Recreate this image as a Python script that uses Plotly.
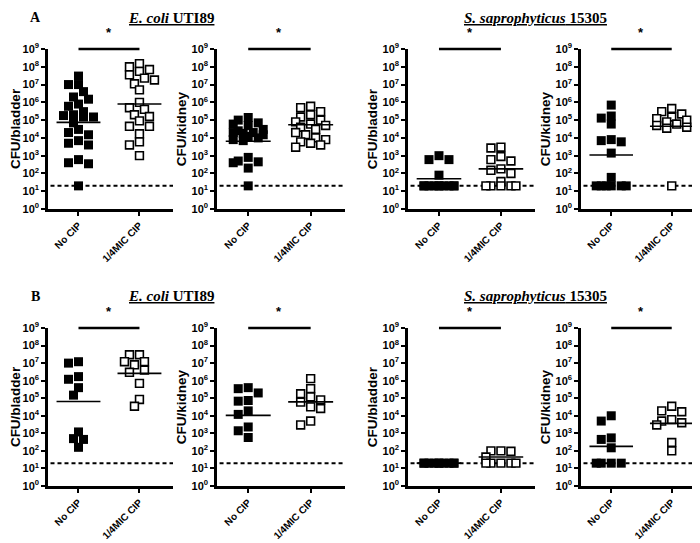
import numpy as np
import plotly.graph_objects as go

# ---------------- data ----------------
categories = ["No CIP", "1/4MIC CIP"]
tick_exponents = list(range(0, 10))
detection_limit = 20

# Row A (E. coli UTI89 / S. saprophyticus 15305)
a_ecoli_bladder_no = [3e7, 1e7, 1e7, 4e6, 2e6, 1.5e6, 8e5, 6e5, 3e5, 2e5, 1.8e5, 1.5e5,
                      1.5e5, 7e4, 3e4, 2e4, 1.5e4, 7e3, 5e3, 4e3, 6e2, 4e2, 3.5e2, 20]
a_ecoli_bladder_mic = [1.5e8, 1e8, 7e7, 5.5e7, 3.5e7, 2.3e7, 1.8e7, 1.1e7, 5e6, 1e6, 5e5,
                       4e5, 2e5, 1.6e5, 9e4, 4.5e4, 4.5e4, 1.7e4, 6e3, 4e3, 1e3]
a_ecoli_bladder_lines = [7.5e4, 8e5]

a_ecoli_kidney_no = [1.4e5, 1e5, 7e4, 6e4, 5e4, 3e4, 2.5e4, 2e4, 2e4, 1.8e4, 1.5e4, 1.2e4,
                     1e4, 8e3, 7e3, 8e2, 5e2, 4.5e2, 4e2, 2e2, 20]
a_ecoli_kidney_mic = [6e5, 5e5, 3e5, 2e5, 1.5e5, 1e5, 8e4, 6e4, 5e4, 4e4, 3e4, 2e4, 1.5e4,
                      1e4, 8e3, 6e3, 5e3, 4e3, 3e3]
a_ecoli_kidney_lines = [6.5e3, 5.5e4]

a_sapro_bladder_no = [1e3, 6e2, 6e2, 80, 20, 20, 20, 20, 20, 20, 20, 20, 20, 20]
a_sapro_bladder_mic = [3e3, 2.7e3, 9e2, 6e2, 5e2, 1.8e2, 1.5e2, 1e2, 35, 20, 20, 20, 20, 20]
a_sapro_bladder_lines = [50, 1.8e2]

a_sapro_kidney_no = [7e5, 1.7e5, 1.3e5, 6e4, 8e3, 7e3, 6e3, 1.4e3, 60, 20, 20, 20, 20, 20, 20]
a_sapro_kidney_mic = [4.5e5, 3e5, 2.2e5, 1.5e5, 1.2e5, 1e5, 8e4, 6e4, 5e4, 4e4, 3.5e4, 20]
a_sapro_kidney_lines = [1.1e3, 4.5e4]

# Row B
b_ecoli_bladder_no = [1.2e7, 1e7, 1.7e6, 1.2e6, 4e5, 1.5e5, 1.2e3, 5e2, 4.5e2, 1.6e2]
b_ecoli_bladder_mic = [3e7, 3e7, 1.2e7, 1.2e7, 8e6, 4e6, 3e6, 7e5, 8.5e4, 3.5e4]
b_ecoli_bladder_lines = [6.5e4, 2.6e6]

b_ecoli_kidney_no = [4e5, 3.5e5, 2e5, 7.4e4, 6.8e4, 1.9e4, 1.2e4, 2.3e3, 1.4e3, 5.8e2]
b_ecoli_kidney_mic = [1.3e6, 3.5e5, 1.8e5, 1.2e5, 8e4, 6e4, 3.2e4, 2.6e4, 5e3, 3e3]
b_ecoli_kidney_lines = [1.05e4, 6.2e4]

b_sapro_bladder_no = [20, 20, 20, 20, 20, 20, 20, 20, 20, 20]
b_sapro_bladder_mic = [100, 100, 95, 45, 20, 20, 20, 20, 20]
b_sapro_bladder_lines = [20, 45]

b_sapro_kidney_no = [1e4, 5e3, 5.5e2, 4.5e2, 1.5e2, 20, 20, 20, 20]
b_sapro_kidney_mic = [3.5e4, 1.9e4, 1.7e4, 6e3, 5e3, 4e3, 3e3, 3e2, 1e2]
b_sapro_kidney_lines = [1.8e2, 3.7e3]

panel_titles = ["CFU/bladder", "CFU/kidney", "CFU/bladder", "CFU/kidney"]
rows = [
    [(a_ecoli_bladder_no, a_ecoli_bladder_mic, a_ecoli_bladder_lines),
     (a_ecoli_kidney_no, a_ecoli_kidney_mic, a_ecoli_kidney_lines),
     (a_sapro_bladder_no, a_sapro_bladder_mic, a_sapro_bladder_lines),
     (a_sapro_kidney_no, a_sapro_kidney_mic, a_sapro_kidney_lines)],
    [(b_ecoli_bladder_no, b_ecoli_bladder_mic, b_ecoli_bladder_lines),
     (b_ecoli_kidney_no, b_ecoli_kidney_mic, b_ecoli_kidney_lines),
     (b_sapro_bladder_no, b_sapro_bladder_mic, b_sapro_bladder_lines),
     (b_sapro_kidney_no, b_sapro_kidney_mic, b_sapro_kidney_lines)],
]

# ---------------- layout geometry ----------------
W, H = 700, 543
col_px = [(40, 165), (209, 337), (400, 527), (573, 697)]
row_px = [(41, 201), (320, 478)]
x_range = [0.5, 2.55]
MS = 9

SANS = "Liberation Sans, Arial, sans-serif"
SERIF = "Liberation Serif, Times New Roman, serif"


def swarm(vals, ppu, ppd, size=MS, offs=(0, -5, 5, -10, 10, -15, 15)):
    order = sorted(range(len(vals)), key=lambda i: -vals[i])
    placed = []
    out = [0.0] * len(vals)
    for i in order:
        y = np.log10(vals[i]) * ppd
        best, best_ov = None, None
        for o in offs:
            ov = sum(max(0, size - abs(o - px)) * max(0, size - abs(y - py)) for px, py in placed)
            if ov <= 0.15 * size * size:
                best, best_ov = o, ov
                break
            if best_ov is None or ov < best_ov:
                best, best_ov = o, ov
        placed.append((best, y))
        out[i] = best / ppu
    return out


fig = go.Figure()
layout = dict(width=W, height=H, margin=dict(l=0, r=0, t=0, b=0, pad=0), autosize=False,
              plot_bgcolor="white", paper_bgcolor="white", showlegend=False)
shapes, annotations = [], []

ticktext = ["10<sup>%d</sup>" % e for e in tick_exponents]
tickvals = [10 ** e for e in tick_exponents]

k = 0
for r, row in enumerate(rows):
    for c, (no, mic, lines) in enumerate(row):
        k += 1
        xa = "x" if k == 1 else "x%d" % k
        ya = "y" if k == 1 else "y%d" % k
        x0p, x1p = col_px[c]
        y0p, y1p = row_px[r]
        ppu = (x1p - x0p) / (x_range[1] - x_range[0])
        ppd = (y1p - y0p) / 9.0
        for gi, (vals, filled) in enumerate([(no, True), (mic, False)]):
            cx = gi + 1
            offs = swarm(vals, ppu, ppd)
            fig.add_trace(go.Scatter(
                x=[cx + o for o in offs], y=vals, mode="markers", xaxis=xa, yaxis=ya,
                cliponaxis=False,
                marker=dict(symbol="square", size=MS if filled else MS - 1.2,
                            color="black" if filled else "white",
                            line=dict(color="black", width=0 if filled else 1.6))))
            hw = 0.36
            fig.add_trace(go.Scatter(
                x=[cx - hw, cx + hw], y=[lines[gi], lines[gi]], mode="lines",
                xaxis=xa, yaxis=ya, line=dict(color="black", width=1.6)))
        axx = "xaxis" if k == 1 else "xaxis%d" % k
        axy = "yaxis" if k == 1 else "yaxis%d" % k
        layout[axx] = dict(domain=[x0p / W, x1p / W], anchor=ya, range=x_range,
                           tickvals=[1, 2], ticktext=categories, tickangle=-45,
                           tickfont=dict(family=SANS, size=10, color="black", weight="bold"),
                           ticks="outside", ticklen=4, tickwidth=2, tickcolor="black",
                           showline=True, linewidth=2.5, linecolor="black", automargin=False,
                           showgrid=False, zeroline=False, fixedrange=True)
        layout[axy] = dict(domain=[1 - y1p / H, 1 - y0p / H], anchor=xa, type="log",
                           range=[0, 9], tickvals=tickvals, ticktext=ticktext,
                           tickfont=dict(family=SANS, size=11, color="black", weight="bold"),
                           ticks="outside", ticklen=4, tickwidth=2, tickcolor="black",
                           showline=True, linewidth=2.5, linecolor="black", automargin=False,
                           showgrid=False, zeroline=False,
                           title=dict(text=panel_titles[c], standoff=2,
                                      font=dict(family=SANS, size=13.5, color="black", weight="bold")))
        # detection limit
        shapes.append(dict(type="line", xref="%s domain" % xa, yref=ya, x0=0.02, x1=1,
                           y0=detection_limit, y1=detection_limit, layer="below",
                           line=dict(color="black", width=2, dash="4px,3px")))
        # significance bar
        shapes.append(dict(type="line", xref=xa, yref="%s domain" % ya, x0=1, x1=2,
                           y0=1, y1=1, line=dict(color="black", width=2.5)))
        annotations.append(dict(text="<b>*</b>", xref=xa, yref="%s domain" % ya, x=1.5, y=1,
                                xanchor="center", yanchor="bottom", yshift=7, showarrow=False,
                                font=dict(family=SANS, size=13, color="black")))

# panel letters and strain titles
for r, ymid in enumerate([10, 288]):
    annotations.append(dict(text="<b>%s</b>" % "AB"[r], xref="paper", yref="paper",
                            x=27 / W, y=1 - ymid / H, xanchor="center", yanchor="middle",
                            showarrow=False, font=dict(family=SERIF, size=14, color="black")))
    annotations.append(dict(text="<u><b><i>E. coli</i> UTI89</b></u>", xref="paper", yref="paper",
                            x=163 / W, y=1 - ymid / H, xanchor="center", yanchor="middle",
                            showarrow=False, font=dict(family=SERIF, size=15, color="black")))
    annotations.append(dict(text="<u><b><i>S. saprophyticus</i> 15305</b></u>", xref="paper",
                            yref="paper", x=527 / W, y=1 - ymid / H, xanchor="center",
                            yanchor="middle", showarrow=False,
                            font=dict(family=SERIF, size=15, color="black")))

layout["shapes"] = shapes
layout["annotations"] = annotations
fig.update_layout(**layout)
fig.write_html("out.html")
